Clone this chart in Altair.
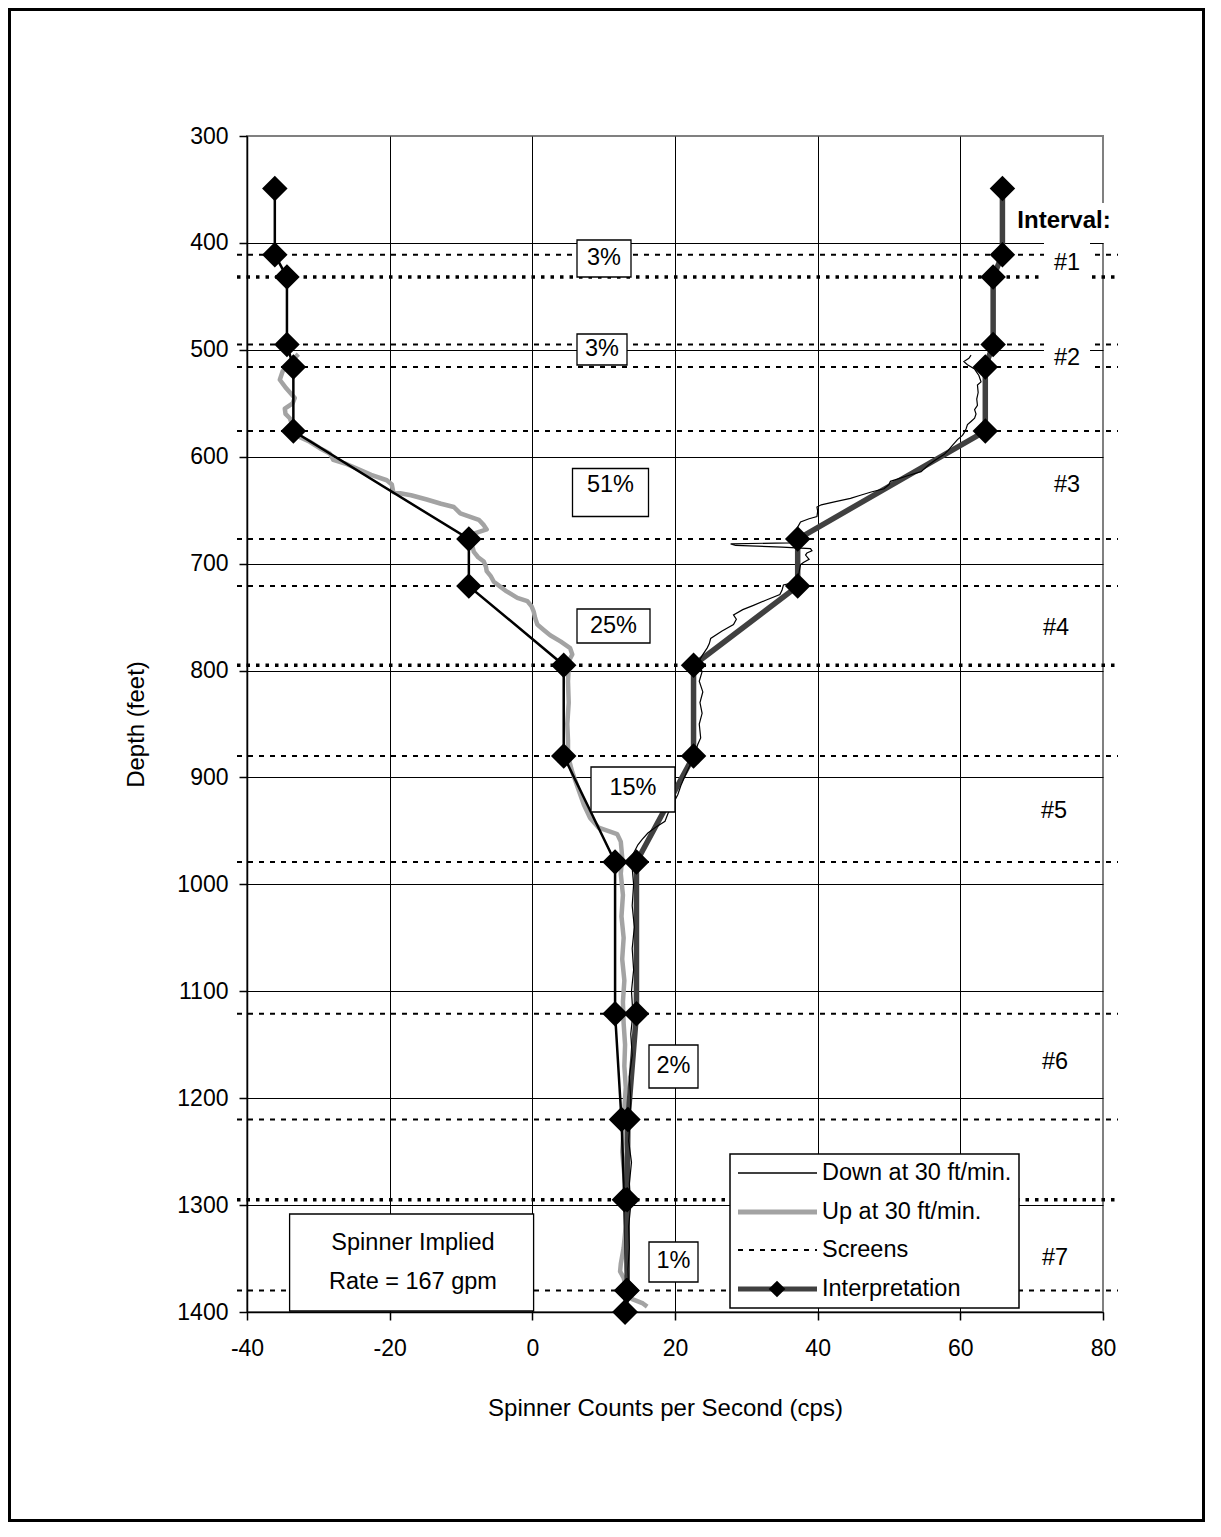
import pandas as pd
import altair as alt

# ---------------------------------------------------------------------------
# Values
# ---------------------------------------------------------------------------

# screened intervals (dashed lines), feet
screen_depths = [411, 432, 495, 516, 576, 677, 721, 795, 880, 979, 1121, 1220, 1295, 1380]
# these three are drawn heavier in the original
heavy_screen_depths = [432, 795, 1295]

# interpretation nodes (diamonds)
interp_depth = [349, 411, 432, 495, 516, 576, 677, 721, 795, 880, 979, 1121, 1220, 1295, 1380, 1400]
interp_down_cps = [-36.1, -36.1, -34.4, -34.4, -33.5, -33.5, -8.9, -8.9, 4.4, 4.4,
                   11.6, 11.6, 12.5, 12.9, 13.2, 13.0]
interp_up_cps = [65.9, 65.9, 64.6, 64.6, 63.5, 63.5, 37.2, 37.2, 22.6, 22.6,
                 14.6, 14.6, 13.4, 13.3, 13.3, 13.0]

# "Up at 30 ft/min." log (light gray trace)
up_depth = [504, 511, 520, 528, 536, 545, 550, 555, 560, 564, 571, 578, 582, 586, 592,
            597, 603, 607, 611, 617, 622, 626, 633, 636, 640, 644, 647, 653, 656, 659,
            664, 668, 672, 678, 684, 689, 694, 698, 703, 707, 712, 717, 722, 726, 732,
            735, 740, 745, 751, 757, 762, 767, 773, 779, 785, 790, 796, 810, 830, 850,
            865, 880, 895, 910, 925, 938, 947, 953, 960, 975, 990, 1010, 1030, 1050, 1070,
            1090, 1110, 1130, 1150, 1170, 1190, 1210, 1230, 1250, 1265, 1280, 1300, 1320, 1340, 1355,
            1362, 1368, 1380, 1388, 1392, 1395]
up_cps = [-32.8, -33.8, -35.0, -35.4, -34.5, -33.3, -33.6, -34.7, -34.6, -34.0, -33.6, -33.3, -32.5, -31.2, -29.8,
          -28.4, -27.9, -26.0, -24.6, -22.6, -20.4, -19.7, -19.5, -17.0, -14.8, -12.8, -11.0, -10.1, -8.8, -7.5,
          -6.8, -6.4, -8.2, -8.6, -8.4, -8.2, -7.6, -6.8, -6.5, -6.4, -5.8, -5.4, -4.4, -3.6, -2.1,
          -0.7, -0.1, 0.2, 0.4, 0.7, 1.6, 2.5, 4.0, 5.3, 5.6, 5.2, 5.1, 5.0, 5.1, 4.9,
          5.0, 5.0, 5.6, 6.4, 7.2, 8.1, 9.3, 11.9, 12.4, 12.6, 12.4, 12.7, 12.5, 12.8, 12.6,
          12.9, 12.7, 12.8, 13.0, 12.9, 13.1, 12.9, 12.8, 12.6, 12.8, 13.0, 13.0, 13.1, 12.8, 12.4,
          12.3, 12.8, 13.2, 14.0, 15.5, 16.1]

# "Down at 30 ft/min." log (thin black trace)
down_depth = [505, 508, 511, 514, 518, 524, 530, 533, 540, 546, 552, 556, 560, 564, 567,
              570, 574, 578, 580, 584, 590, 594, 598, 603, 608, 614, 618, 623, 626, 630,
              633, 636, 639, 642, 645, 647, 651, 656, 658, 661, 667, 672, 678, 680.5, 681.5,
              683, 684.5, 686, 688, 690, 692, 696, 699, 701, 708, 717, 720, 725, 729, 734,
              739, 743, 748, 752, 757, 763, 770, 775, 779, 786, 793, 801, 810, 820, 830,
              840, 850, 863, 869, 875, 882, 890, 900, 908, 916, 925, 934, 941, 946, 952,
              958, 963, 972, 985, 1000, 1020, 1040, 1060, 1080, 1100, 1121, 1140, 1160, 1180, 1200,
              1221, 1240, 1260, 1280, 1300, 1320, 1340, 1360, 1380]
down_cps = [61.5, 61.2, 60.5, 61.0, 62.0, 62.6, 62.9, 62.4, 62.5, 62.3, 62.4, 62.0, 62.2, 62.0, 61.5,
            61.0, 60.8, 60.5, 60.3, 59.6, 58.8, 58.3, 57.7, 56.5, 55.5, 54.5, 52.5, 50.2, 50.0, 49.3,
            47.5, 46.0, 44.6, 42.5, 40.5, 39.9, 40.0, 39.9, 38.8, 37.6, 37.1, 36.6, 36.9, 36.0, 27.8,
            28.5, 35.0, 39.0, 39.2, 38.5, 38.3, 38.8, 38.0, 37.6, 37.4, 37.1, 35.2, 35.0, 34.7, 32.8,
            31.0, 29.5, 28.2, 28.6, 28.2, 26.6, 25.0, 24.8, 24.5, 23.8, 23.2, 23.8, 23.4, 23.9, 23.5,
            23.8, 23.4, 23.6, 23.2, 22.9, 22.6, 22.0, 21.3, 20.8, 20.4, 19.7, 19.0, 18.6, 17.4, 16.2,
            15.4, 14.8, 14.1, 14.0, 14.2, 14.0, 14.3, 14.0, 14.2, 13.9, 14.1, 13.8, 14.0, 13.6, 13.8,
            13.7, 13.5, 13.9, 13.6, 13.8, 13.5, 13.6, 13.4, 13.5]

pct_labels = ["3%", "3%", "51%", "25%", "15%", "2%", "1%"]
interval_labels = ["#1", "#2", "#3", "#4", "#5", "#6", "#7"]
legend_labels = ["Down at 30 ft/min.", "Up at 30 ft/min.", "Screens", "Interpretation"]
rate_lines = ["Spinner Implied", "Rate = 167 gpm"]

# ---------------------------------------------------------------------------
# Layout (pixels, measured from the top-left corner of the plot area)
# ---------------------------------------------------------------------------
W, H = 856, 1176
X0, X1 = -40, 80
Y0, Y1 = 300, 1400
FONT = "Liberation Sans"
X_TITLE = "Spinner Counts per Second (cps)"
Y_TITLE = "Depth (feet)"

pct_box_cx = [357, 355, 363.5, 366.5, 386, 426.5, 426.5]
pct_box_cy = [122.5, 213.5, 356.5, 490, 653.5, 930.5, 1126]
pct_box_w = [54, 50, 76, 73, 84, 49, 49]
pct_box_h = [37, 31, 48, 34, 45, 43, 40]
pct_text_cy = [122, 213, 349, 490, 652, 930, 1125]

interval_cx = [820, 820, 820, 809, 807, 808, 808]
interval_cy = [127, 222, 349, 492, 675, 926, 1122]

legend_row_y = [1037, 1076, 1114, 1153]


def dx(px):
    return X0 + px * (X1 - X0) / W


def dy(py):
    return Y0 + py * (Y1 - Y0) / H


def box_frame(cx, cy, w, h):
    return pd.DataFrame({
        "x0": [dx(c - ww / 2) for c, ww in zip(cx, w)],
        "x1": [dx(c + ww / 2) for c, ww in zip(cx, w)],
        "y0": [dy(c - hh / 2) for c, hh in zip(cy, h)],
        "y1": [dy(c + hh / 2) for c, hh in zip(cy, h)],
    })


x_scale = alt.Scale(domain=[X0, X1], nice=False, zero=False)
y_scale = alt.Scale(domain=[Y0, Y1], reverse=True, nice=False, zero=False)

# plain labels: ascii hyphen for negatives, no thousands separator
x_axis = alt.Axis(
    title=X_TITLE, values=list(range(-40, 81, 20)), grid=True, gridColor="black", gridWidth=1,
    gridOpacity={"condition": {"test": "datum.value == 80", "value": 0}, "value": 1},
    domainColor="black", domainWidth=1.5, tickColor="black", tickSize=8, tickWidth=1.5,
    labelFont=FONT, labelFontSize=23, labelColor="black", labelPadding=17,
    labelFlush=False, labelOverlap=False, labelExpr="'' + datum.value",
    titleFont=FONT, titleFontSize=24, titleFontWeight="normal", titleColor="black",
    titleX=418, titleY=96, titleBaseline="middle",
)
y_axis = alt.Axis(
    title=Y_TITLE, values=list(range(300, 1401, 100)), grid=True, gridColor="black", gridWidth=1,
    gridOpacity={"condition": {"test": "datum.value == 300", "value": 0}, "value": 1},
    domainColor="black", domainWidth=1.5, tickColor="black", tickSize=8, tickWidth=1.5,
    labelFont=FONT, labelFontSize=23, labelColor="black", labelPadding=11,
    labelFlush=False, labelOverlap=False, labelExpr="'' + datum.value",
    titleFont=FONT, titleFontSize=24, titleFontWeight="normal", titleColor="black",
    titleX=-111, titleBaseline="middle",
)


def X(field):
    return alt.X(f"{field}:Q", scale=x_scale, axis=x_axis, title=X_TITLE)


def Y(field):
    return alt.Y(f"{field}:Q", scale=y_scale, axis=y_axis, title=Y_TITLE)


layers = []

# screens
screens = pd.DataFrame({"depth": screen_depths})
screens["heavy"] = screens["depth"].isin(heavy_screen_depths)
layers.append(
    alt.Chart(screens[~screens["heavy"]]).mark_rule(color="black", strokeWidth=2, strokeDash=[5, 6])
    .encode(y=Y("depth"), x=alt.value(-10), x2=alt.value(W + 15))
)
layers.append(
    alt.Chart(screens[screens["heavy"]]).mark_rule(color="black", strokeWidth=3.5, strokeDash=[3.5, 6])
    .encode(y=Y("depth"), x=alt.value(-10), x2=alt.value(W + 15))
)

# up log
up = pd.DataFrame({"depth": up_depth, "cps": up_cps})
layers.append(
    alt.Chart(up).mark_line(color="#a3a3a3", strokeWidth=4.5, strokeJoin="round")
    .encode(x=X("cps"), y=Y("depth"), order="depth:Q")
)

# interpretation lines
interp = pd.DataFrame({"depth": interp_depth, "down": interp_down_cps, "up": interp_up_cps})
layers.append(
    alt.Chart(interp).mark_line(color="black", strokeWidth=2.5)
    .encode(x=X("down"), y=Y("depth"), order="depth:Q")
)
layers.append(
    alt.Chart(interp).mark_line(color="#404040", strokeWidth=5.5)
    .encode(x=X("up"), y=Y("depth"), order="depth:Q")
)

# down log
down = pd.DataFrame({"depth": down_depth, "cps": down_cps})
layers.append(
    alt.Chart(down).mark_line(color="black", strokeWidth=1.2)
    .encode(x=X("cps"), y=Y("depth"), order="depth:Q")
)

# diamonds
for col in ["down", "up"]:
    layers.append(
        alt.Chart(interp).mark_point(shape="diamond", size=650, filled=True, color="black",
                                     opacity=1, strokeWidth=0)
        .encode(x=X(col), y=Y("depth"))
    )

# percentage boxes
pct_boxes = box_frame(pct_box_cx, pct_box_cy, pct_box_w, pct_box_h)
layers.append(
    alt.Chart(pct_boxes).mark_rect(fill="white", stroke="black", strokeWidth=1.3)
    .encode(x=X("x0"), x2="x1", y=Y("y0"), y2="y1")
)
pct_text = pd.DataFrame({"label": pct_labels,
                         "x": [dx(v) for v in pct_box_cx],
                         "y": [dy(v) for v in pct_text_cy]})
layers.append(
    alt.Chart(pct_text).mark_text(font=FONT, fontSize=23.5, color="black", align="center", baseline="middle")
    .encode(x=X("x"), y=Y("y"), text="label:N")
)

# spinner implied rate box
rate_box = box_frame([164.6], [1126.5], [244], [97])
layers.append(
    alt.Chart(rate_box).mark_rect(fill="white", stroke="black", strokeWidth=1.3)
    .encode(x=X("x0"), x2="x1", y=Y("y0"), y2="y1")
)
rate_text = pd.DataFrame({"label": rate_lines, "x": [dx(166)] * 2, "y": [dy(1107), dy(1145.5)]})
layers.append(
    alt.Chart(rate_text).mark_text(font=FONT, fontSize=23.5, color="black", align="center", baseline="middle")
    .encode(x=X("x"), y=Y("y"), text="label:N")
)

# interval labels (white backing hides the lines behind them)
int_boxes = box_frame([817] + interval_cx, [87] + interval_cy, [104] + [46] * 7, [40] + [42] * 7)
layers.append(
    alt.Chart(int_boxes).mark_rect(fill="white", strokeWidth=0)
    .encode(x=X("x0"), x2="x1", y=Y("y0"), y2="y1")
)
layers.append(
    alt.Chart(pd.DataFrame({"label": ["Interval:"], "x": [dx(817)], "y": [dy(85)]}))
    .mark_text(font=FONT, fontSize=24, fontWeight="bold", color="black", align="center", baseline="middle")
    .encode(x=X("x"), y=Y("y"), text="label:N")
)
int_text = pd.DataFrame({"label": interval_labels,
                         "x": [dx(v) for v in interval_cx],
                         "y": [dy(v) for v in interval_cy]})
layers.append(
    alt.Chart(int_text).mark_text(font=FONT, fontSize=23.5, color="black", align="center", baseline="middle")
    .encode(x=X("x"), y=Y("y"), text="label:N")
)

# legend
legend_box = box_frame([627.5], [1095], [289], [154])
layers.append(
    alt.Chart(legend_box).mark_rect(fill="white", stroke="black", strokeWidth=1.5)
    .encode(x=X("x0"), x2="x1", y=Y("y0"), y2="y1")
)
leg = pd.DataFrame({"label": legend_labels,
                    "y": [dy(v) for v in legend_row_y],
                    "x0": dx(491), "x1": dx(570), "xt": dx(575), "xm": dx(530)})
leg_styles = [
    dict(color="black", strokeWidth=1.3),
    dict(color="#a3a3a3", strokeWidth=5),
    dict(color="black", strokeWidth=2, strokeDash=[5, 6]),
    dict(color="#404040", strokeWidth=5),
]
for i, style in enumerate(leg_styles):
    layers.append(
        alt.Chart(leg.iloc[[i]]).mark_rule(**style)
        .encode(x=X("x0"), x2="x1", y=Y("y"))
    )
layers.append(
    alt.Chart(leg.iloc[[3]]).mark_point(shape="diamond", size=280, filled=True, color="black",
                                        opacity=1, strokeWidth=0)
    .encode(x=X("xm"), y=Y("y"))
)
layers.append(
    alt.Chart(leg).mark_text(font=FONT, fontSize=23.5, color="black", align="left", baseline="middle")
    .encode(x=X("xt"), y=Y("y"), text="label:N")
)

# outer frame of the chart
frame = pd.DataFrame({"x0": [dx(-237.5)], "x1": [dx(956.5)], "y0": [dy(-126.5)], "y1": [dy(1384.5)]})
layers.append(
    alt.Chart(frame).mark_rect(fill=None, stroke="black", strokeWidth=3)
    .encode(x=X("x0"), x2="x1", y=Y("y0"), y2="y1")
)

chart = alt.layer(*layers).properties(
    width=W,
    height=H,
    padding={"left": 239, "top": 128, "right": 102, "bottom": 210},
    autosize=alt.AutoSizeParams(type="none"),
).configure(
    font=FONT,
    background="white",
).configure_view(
    stroke="#808080",
    strokeWidth=2,
)

chart.save("out.html", embed_options={"renderer": "svg", "actions": False})
